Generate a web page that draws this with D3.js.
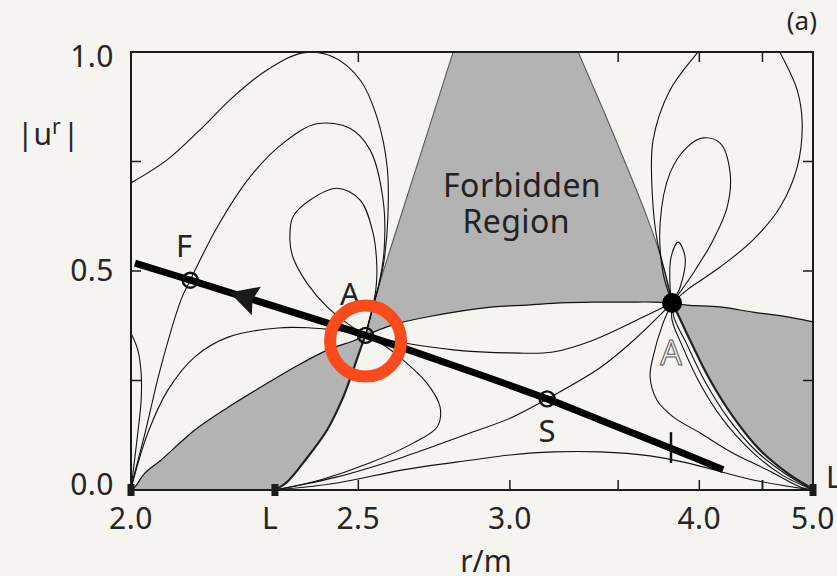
<!DOCTYPE html>
<html>
<head>
<meta charset="utf-8">
<script src="https://cdn.jsdelivr.net/npm/d3@7"></script>
<style>
  html, body { margin: 0; padding: 0; background: #f5f4f1; }
  svg { display: block; font-family: "Noto Sans", "DejaVu Sans", sans-serif; }
</style>
</head>
<body>
<svg id="chart" width="837" height="576"></svg>
<script>
// ---- phase-space data: points are [r/m, |u^r|] ----

// separatrices through the saddle A and the node (filled dot)
const sepOriginToA   = [[2.000,0],[2.007,0.007],[2.025,0.039],[2.054,0.068],[2.119,0.137],[2.187,0.189],[2.258,0.235],[2.337,0.281],[2.419,0.320],[2.491,0.342],[2.520,0.353]];
const sepAToDot      = [[2.520,0.353],[2.599,0.377],[2.704,0.395],[2.935,0.418],[3.070,0.422],[3.213,0.427],[3.370,0.429],[3.549,0.429],[3.699,0.429],[3.817,0.427]];
const sepDotToEdge   = [[3.817,0.427],[3.916,0.422],[4.152,0.418],[4.418,0.406],[4.692,0.397],[5.000,0.384]];
const sepLToA        = [[2.290,0],[2.318,0.018],[2.357,0.062],[2.417,0.137],[2.459,0.212],[2.486,0.274],[2.505,0.320],[2.520,0.353]];
const sepAToTop      = [[2.520,0.353],[2.541,0.422],[2.561,0.475],[2.614,0.605],[2.688,0.776],[2.791,1.000]];
const sepTopToDot    = [[3.297,1.000],[3.421,0.868],[3.549,0.737],[3.663,0.623],[3.742,0.537],[3.792,0.463],[3.817,0.427]];
const sepDotToCorner = [[3.817,0.427],[3.850,0.404],[3.936,0.342],[4.077,0.251],[4.253,0.167],[4.479,0.091],[4.731,0.039],[4.969,0.005],[5.000,0]];

// other solution curves
const loopOuter  = [[2.000,0.701],[2.065,0.753],[2.129,0.822],[2.197,0.897],[2.272,0.959],[2.357,0.998],[2.432,0.989],[2.505,0.936],[2.552,0.852],[2.582,0.737],[2.584,0.623],[2.573,0.525],[2.558,0.468],[2.541,0.418],[2.520,0.353]];
const loopMiddle = [[2.000,0],[2.0035,0.023],[2.025,0.130],[2.054,0.281],[2.092,0.434],[2.110,0.479],[2.164,0.600],[2.234,0.715],[2.309,0.792],[2.391,0.836],[2.477,0.826],[2.533,0.776],[2.570,0.662],[2.573,0.548],[2.558,0.470],[2.541,0.418],[2.520,0.353]];
const loopInner  = [[2.520,0.353],[2.469,0.381],[2.417,0.418],[2.366,0.473],[2.332,0.532],[2.325,0.571],[2.332,0.623],[2.374,0.662],[2.443,0.689],[2.505,0.662],[2.541,0.587],[2.552,0.509],[2.549,0.457],[2.538,0.411],[2.520,0.353]];
const originToA  = [[2.000,0],[2.005,0.027],[2.030,0.130],[2.067,0.228],[2.119,0.304],[2.187,0.349],[2.297,0.370],[2.376,0.370],[2.438,0.365],[2.520,0.353]];
const axisHook   = [[2.000,0.358],[2.012,0.320],[2.018,0.267],[2.018,0.205],[2.012,0.130],[2.0035,0.039],[2.000,0]];
const lToA       = [[2.290,0],[2.399,0.023],[2.533,0.062],[2.660,0.107],[2.737,0.144],[2.747,0.189],[2.704,0.244],[2.629,0.297],[2.561,0.336],[2.520,0.353]];
const lThroughS  = [[2.290,0],[2.443,0.030],[2.629,0.075],[2.850,0.130],[3.001,0.164],[3.155,0.208],[3.405,0.279],[3.600,0.347],[3.817,0.427]];
const lHump      = [[2.290,0],[2.443,0.016],[2.629,0.046],[2.850,0.068],[3.001,0.080],[3.181,0.087],[3.405,0.087],[3.681,0.078],[3.916,0.062],[4.418,0.023],[5.000,0]];
const aToDot     = [[2.520,0.353],[2.629,0.336],[2.791,0.320],[3.001,0.313],[3.181,0.315],[3.370,0.342],[3.640,0.395],[3.817,0.427]];
const teardrop   = [[3.817,0.427],[3.760,0.381],[3.699,0.304],[3.681,0.258],[3.723,0.205],[3.824,0.167],[4.006,0.130],[4.253,0.084],[4.542,0.046],[4.863,0.007],[5.000,0]];
const bundleA    = [[3.817,0.427],[3.830,0.393],[3.909,0.336],[4.041,0.247],[4.213,0.164],[4.444,0.089],[4.712,0.037],[5.000,0]];
const bundleB    = [[3.817,0.427],[3.817,0.388],[3.883,0.329],[4.006,0.242],[4.175,0.160],[4.410,0.087],[4.683,0.034],[5.000,0]];
const dotLoopTall  = [[3.817,0.427],[3.785,0.479],[3.723,0.571],[3.693,0.685],[3.699,0.799],[3.804,0.913],[3.985,0.998],[4.027,1.016]];
const dotLoopWide  = [[3.817,0.427],[3.916,0.457],[4.152,0.509],[4.418,0.571],[4.663,0.646],[4.832,0.737],[4.884,0.838],[4.832,0.913],[4.663,0.998],[4.620,1.015]];
const dotLoopMid   = [[3.817,0.427],[3.760,0.495],[3.742,0.610],[3.804,0.724],[3.916,0.783],[4.027,0.804],[4.152,0.792],[4.229,0.724],[4.206,0.646],[4.100,0.571],[3.957,0.495],[3.817,0.427]];
const dotLoopSmall = [[3.817,0.427],[3.804,0.463],[3.811,0.532],[3.856,0.566],[3.902,0.532],[3.869,0.463],[3.817,0.427]];
const thinCurves = [loopOuter, loopMiddle, loopInner, originToA, axisHook, lToA, lThroughS, lHump, aToDot, teardrop, bundleA, bundleB, dotLoopTall, dotLoopWide, dotLoopMid, dotLoopSmall];

// the physical flow (thick line), its direction arrow and the shock mark
const flowPath   = [[2.007,0.518],[2.110,0.479],[2.520,0.353],[2.815,0.279],[3.155,0.208],[3.405,0.160],[3.869,0.087],[4.175,0.046]];
const arrowTipR  = 2.19;
const shockMark  = { r: 3.81, u0: 0.062, u1: 0.132 };

// marked points
const openPoints = [[2.110,0.479],[2.520,0.353],[3.155,0.208]];
const nodePoint  = [3.817,0.427];
const highlight  = [2.520,0.340];

// labels
const pointLabels = [
  { text: "F", r: 2.098, u: 0.532 },
  { text: "A", r: 2.477, u: 0.422 },
  { text: "S", r: 3.155, u: 0.110 }
];
const hollowLabel = { text: "A", r: 3.811, u: 0.285 };
const regionLabel = [
  { text: "Forbidden", r: 3.049, u: 0.669 },
  { text: "Region",    r: 3.025, u: 0.587 }
];

// axes
const xLabelTicks = [2.0, 2.5, 3.0, 4.0, 5.0];
const xMinorTicks = [3.5, 4.5];
const xTopTicks   = [2.5, 3.0, 3.5, 4.0, 4.5];
const xSpecial    = { text: "L", r: 2.29 };
const xCorner     = [2.0, 2.29, 5.0];
const yLabelTicks = [0.0, 0.5, 1.0];
const yTickMarks  = [0.25, 0.5, 0.75];

// ---- drawing ----
const W = 837, H = 576;
const svg = d3.select("#chart");
svg.append("rect").attr("width", W).attr("height", H).attr("fill", "#f5f4f1");

// horizontal axis is linear in 1/r
const x = d3.scalePow().exponent(-1).domain([2, 5]).range([131, 813]);
const y = d3.scaleLinear().domain([0, 1]).range([490, 52]);
const [x0, x1] = x.range(), [y0, y1] = y.range();

const line = d3.line().x(d => x(d[0])).y(d => y(d[1])).curve(d3.curveCatmullRom.alpha(0.5));
const chain = (...segs) => segs.map((s, i) => {
  const p = line(s);
  return i ? p.replace(/^M/, "L") : p;
}).join("") + "Z";

svg.append("clipPath").attr("id", "plot")
  .append("rect").attr("x", x0).attr("y", y1).attr("width", x1 - x0).attr("height", y0 - y1);

const ink = "#1b1b1b";

// top ticks sit under the shaded regions
svg.append("g").selectAll("line").data(xTopTicks).join("line")
  .attr("x1", d => x(d)).attr("x2", d => x(d)).attr("y1", y1).attr("y2", y1 + 10)
  .attr("stroke", ink).attr("stroke-width", 1.5);

const plot = svg.append("g").attr("clip-path", "url(#plot)");

// forbidden regions
const gray = "#b3b3b3";
plot.append("path").attr("fill", gray)
  .attr("d", chain(sepOriginToA, sepLToA.slice().reverse(), [[2.29, 0], [2.0, 0]]));
plot.append("path").attr("fill", gray)
  .attr("d", chain(sepAToTop, sepTopToDot, sepAToDot.slice().reverse()));
plot.append("path").attr("fill", gray)
  .attr("d", chain(sepDotToEdge, sepDotToCorner.slice().reverse()));

// boundary of the upper region
plot.selectAll(".edge").data([sepAToTop, sepTopToDot]).join("path")
  .attr("fill", "none").attr("stroke", "#5a5a5a").attr("stroke-width", 1.1).attr("d", line);

// solution curves
plot.selectAll(".thin").data(thinCurves).join("path")
  .attr("fill", "none").attr("stroke", "#111").attr("stroke-width", 1.1).attr("d", line);
plot.selectAll(".sep").data([sepOriginToA, sepAToDot, sepDotToEdge]).join("path")
  .attr("fill", "none").attr("stroke", "#111").attr("stroke-width", 1.2).attr("d", line);
plot.selectAll(".sepBold").data([sepLToA, sepDotToCorner]).join("path")
  .attr("fill", "none").attr("stroke", "#222").attr("stroke-width", 2.2).attr("d", line);

// flow line
plot.append("path").attr("fill", "none").attr("stroke", "#000").attr("stroke-width", 7)
  .attr("d", line(flowPath));

// arrow head pointing toward small r along the flow line
(function () {
  const px = flowPath.map(d => [x(d[0]), y(d[1])]);
  const tx = x(arrowTipR);
  let i = 0;
  while (i < px.length - 2 && px[i + 1][0] < tx) i++;
  const [a, b] = [px[i], px[i + 1]];
  const t = (tx - a[0]) / (b[0] - a[0]);
  const ty = a[1] + t * (b[1] - a[1]);
  const ang = Math.atan2(b[1] - a[1], b[0] - a[0]) * 180 / Math.PI;
  svg.append("path")
    .attr("d", "M0,0 L28,-15 L24,0 L28,15 Z")
    .attr("transform", `translate(${tx},${ty}) rotate(${ang})`)
    .attr("fill", "#1a1a1a");
})();

// shock mark
svg.append("line")
  .attr("x1", x(shockMark.r)).attr("x2", x(shockMark.r))
  .attr("y1", y(shockMark.u0)).attr("y2", y(shockMark.u1))
  .attr("stroke", "#111").attr("stroke-width", 2.5);

// critical points
svg.selectAll(".open").data(openPoints).join("circle")
  .attr("cx", d => x(d[0])).attr("cy", d => y(d[1])).attr("r", 7.5)
  .attr("fill", "none").attr("stroke", "#111").attr("stroke-width", 2.4);
svg.append("circle").attr("cx", x(nodePoint[0])).attr("cy", y(nodePoint[1])).attr("r", 10).attr("fill", "#000");

// frame
svg.append("rect").attr("x", x0).attr("y", y1).attr("width", x1 - x0).attr("height", y0 - y1)
  .attr("fill", "none").attr("stroke", ink).attr("stroke-width", 2);

// bottom ticks
svg.append("g").selectAll("line").data([2.5, 3.0, ...xMinorTicks, 4.0, 4.5]).join("line")
  .attr("x1", d => x(d)).attr("x2", d => x(d)).attr("y1", y0).attr("y2", y0 - 10)
  .attr("stroke", ink).attr("stroke-width", 1.5);
// square markers on the axis
svg.append("g").selectAll("rect").data(xCorner).join("rect")
  .attr("x", d => x(d) - 3.5).attr("y", y0 - 6).attr("width", 7).attr("height", 12).attr("fill", ink);
// side ticks
svg.append("g").selectAll("line").data(yTickMarks).join("line")
  .attr("x1", x0).attr("x2", x0 + 10).attr("y1", d => y(d)).attr("y2", d => y(d))
  .attr("stroke", ink).attr("stroke-width", 1.5);
svg.append("g").selectAll("line").data(yTickMarks).join("line")
  .attr("x1", x1).attr("x2", x1 - 10).attr("y1", d => y(d)).attr("y2", d => y(d))
  .attr("stroke", ink).attr("stroke-width", 1.5);

// tick labels
const fmt = d3.format(".1f");
const txt = "#252525";
svg.append("g").selectAll("text").data(xLabelTicks).join("text")
  .attr("x", d => x(d)).attr("y", y0 + 39).attr("text-anchor", "middle")
  .attr("font-size", 30).attr("letter-spacing", 0.5).attr("fill", txt).text(fmt);
svg.append("text").attr("x", x(xSpecial.r) - 5).attr("y", y0 + 39).attr("text-anchor", "middle")
  .attr("font-size", 30).attr("fill", txt).text(xSpecial.text);
svg.append("text").attr("x", x1 + 13).attr("y", y0 - 2)
  .attr("font-size", 30).attr("fill", txt).text(xSpecial.text);
svg.append("g").selectAll("text").data(yLabelTicks).join("text")
  .attr("x", x0 - 17).attr("y", d => Math.min(Math.max(y(d), y1 + 5), y0 - 5) + 10)
  .attr("text-anchor", "end").attr("font-size", 30).attr("letter-spacing", 0.5).attr("fill", txt).text(fmt);

// axis titles
svg.append("text").attr("x", 486).attr("y", 572).attr("text-anchor", "middle")
  .attr("font-size", 30).attr("fill", txt).text("r/m");
const yt = svg.append("text").attr("x", 17).attr("y", 145).attr("font-size", 30).attr("fill", txt);
yt.append("tspan").text("|u");
yt.append("tspan").attr("dy", -11).attr("font-size", 21).text("r");
yt.append("tspan").attr("dy", 11).attr("dx", 2).text("|");
svg.append("text").attr("x", 817).attr("y", 30).attr("text-anchor", "end")
  .attr("font-size", 26).attr("fill", txt).text("(a)");

// region and point labels
svg.selectAll(".region").data(regionLabel).join("text")
  .attr("x", d => x(d.r)).attr("y", d => y(d.u)).attr("text-anchor", "middle")
  .attr("font-size", 32).attr("letter-spacing", 0.4).attr("fill", "#222").text(d => d.text);
svg.selectAll(".plabel").data(pointLabels).join("text")
  .attr("x", d => x(d.r)).attr("y", d => y(d.u)).attr("text-anchor", "middle")
  .attr("font-size", 31).attr("fill", "#222").text(d => d.text);
svg.append("text").attr("x", x(hollowLabel.r)).attr("y", y(hollowLabel.u)).attr("text-anchor", "middle")
  .attr("font-size", 34).attr("fill", "#f5f4f1").attr("stroke", "#555").attr("stroke-width", 1)
  .text(hollowLabel.text);

// highlight ring around the saddle
svg.append("circle").attr("cx", x(highlight[0])).attr("cy", y(highlight[1])).attr("r", 35.5)
  .attr("fill", "none").attr("stroke", "#fb4a1b").attr("stroke-width", 12);
</script>
</body>
</html>
